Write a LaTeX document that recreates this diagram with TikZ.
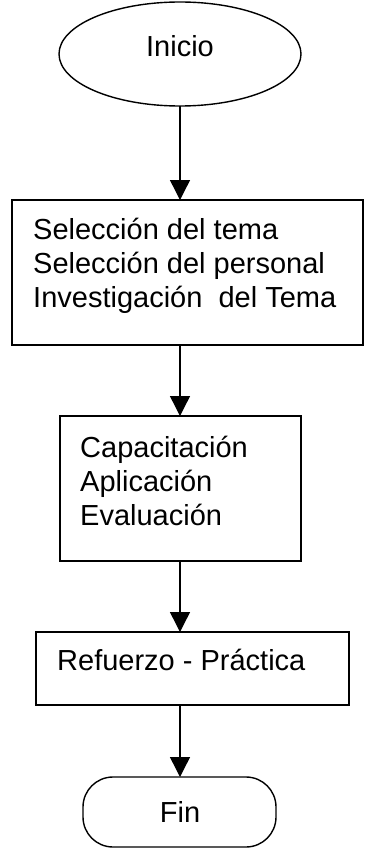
\documentclass[tikz,border=0pt]{standalone}
\usepackage{fontspec}
\setmainfont{Liberation Sans}
\usetikzlibrary{shapes.geometric,arrows.meta}
\begin{document}
\begin{tikzpicture}[x=1pt,y=-1pt,
  shp/.style={draw, line width=1.4pt, inner sep=0pt, outer sep=0pt},
  lbl/.style={inner sep=0pt, anchor=base west, font=\fontsize{29pt}{34pt}\selectfont},
  ctr/.style={inner sep=0pt, anchor=base, font=\fontsize{29pt}{34pt}\selectfont},
  arr/.style={line width=1.4pt, -{Triangle[length=20pt,width=20pt]}}]
\useasboundingbox (0,0) rectangle (364,848);
% shapes
\node[shp, ellipse, minimum width=242pt, minimum height=104pt] (ini) at (180,54) {};
\node[shp, rectangle, minimum width=351pt, minimum height=145pt] (b1) at (187.5,272.5) {};
\node[shp, rectangle, minimum width=241pt, minimum height=145pt] (b2) at (180.5,488.5) {};
\node[shp, rectangle, minimum width=313pt, minimum height=73pt] (b3) at (192.5,668.5) {};
\node[shp, rectangle, rounded corners=30pt, minimum width=193pt, minimum height=70pt] (fin) at (179.5,812) {};
% texts
\node[ctr] (tini) at (180,57) {Inicio};
\node[lbl] (t11) at (33,239) {Selección del tema};
\node[lbl] (t12) at (33,273) {Selección del personal};
\node[lbl] (t13) at (33,307) {Investigación\ \ del Tema};
\node[lbl] (t21) at (80,457) {Capacitación};
\node[lbl] (t22) at (80,491) {Aplicación};
\node[lbl] (t23) at (80,525) {Evaluación};
\node[lbl] (t31) at (57,670) {Refuerzo - Práctica};
\node[ctr] (tfin) at (180,822) {Fin};
% connectors
\draw[arr] (ini.south) -- (ini.south |- b1.north);
\draw[arr] (b1.south -| ini.south) -- (b2.north -| ini.south);
\draw[arr] (b2.south -| ini.south) -- (b3.north -| ini.south);
\draw[arr] (b3.south -| ini.south) -- (fin.north -| ini.south);
\end{tikzpicture}
\end{document}
